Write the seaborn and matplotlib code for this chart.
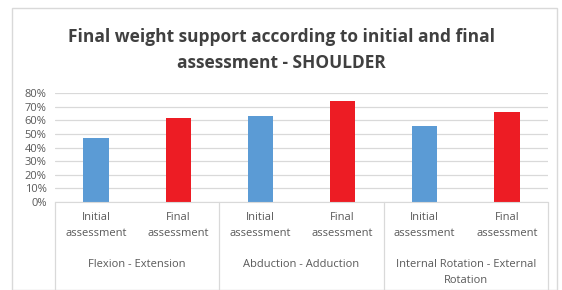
import numpy as np
import pandas as pd
import seaborn as sns
import matplotlib.pyplot as plt
from matplotlib.patches import Rectangle
from matplotlib.ticker import PercentFormatter

movements = ["Flexion - Extension", "Abduction - Adduction",
             "Internal Rotation - External\nRotation"]
assessments = ["Initial\nassessment", "Final\nassessment"]
initial_vals = [0.47, 0.63, 0.555]
final_vals = [0.62, 0.74, 0.66]
yticks = [0, 0.1, 0.2, 0.3, 0.4, 0.5, 0.6, 0.7, 0.8]

rows = []
for m, a, b in zip(movements, initial_vals, final_vals):
    rows.append({"slot": m + "|i", "assessment": "Initial", "value": a})
    rows.append({"slot": m + "|f", "assessment": "Final", "value": b})
df = pd.DataFrame(rows)

sns.set_style("white")
plt.rcParams['font.family'] = ['Open Sans', 'DejaVu Sans']

W, H = 562, 290
fig = plt.figure(figsize=(W / 100, H / 100), dpi=100)
fig.patches.append(Rectangle((12 / W, 0), (557 - 12) / W, (290 - 8) / H,
                             transform=fig.transFigure, fill=False,
                             edgecolor="#d9d9d9", linewidth=1))

ax = fig.add_axes([55 / W, 88 / H, (548 - 55) / W, (202 - 93) / H])
sns.barplot(data=df, x="slot", y="value", hue="assessment",
            palette={"Initial": "#5b9bd5", "Final": "#ed1c24"},
            dodge=False, width=0.31, legend=False, ax=ax, saturation=1,
            edgecolor=None, linewidth=0)

ax.set_ylim(0, 0.8)
ax.set_xlim(-0.5, 5.5)
ax.set_yticks(yticks)
ax.yaxis.set_major_formatter(PercentFormatter(1.0, decimals=0))
ax.grid(axis="y", color="#d9d9d9", linewidth=0.9)
ax.set_axisbelow(True)
for s in ["top", "right", "left"]:
    ax.spines[s].set_visible(False)
ax.spines["bottom"].set_color("#d9d9d9")
ax.tick_params(axis="y", length=0, labelsize=8, labelcolor="#595959", pad=6)
ax.set_xticks(range(6))
ax.set_xticklabels(assessments * 3, fontsize=8, color="#595959",
                   linespacing=1.6)
ax.tick_params(axis="x", length=0, pad=7)
ax.set_xlabel("")
ax.set_ylabel("")

# group labels and separators
for i, m in enumerate(movements):
    ax.text(2 * i + 0.5, -0.42, m, ha="center", va="top", fontsize=8,
            color="#595959", linespacing=1.6, transform=ax.transData,
            clip_on=False)
for x in [-0.5, 1.5, 3.5, 5.5]:
    ax.plot([x, x], [0, -0.7], color="#d9d9d9", linewidth=0.9,
            clip_on=False)

fig.text(0.5, 1 - 50 / H,
         "Final weight support according to initial and final\nassessment - SHOULDER",
         ha="center", va="center", fontsize=12.5, fontweight="bold",
         color="#404040", linespacing=1.5)

fig.savefig("out.png", dpi=100)
